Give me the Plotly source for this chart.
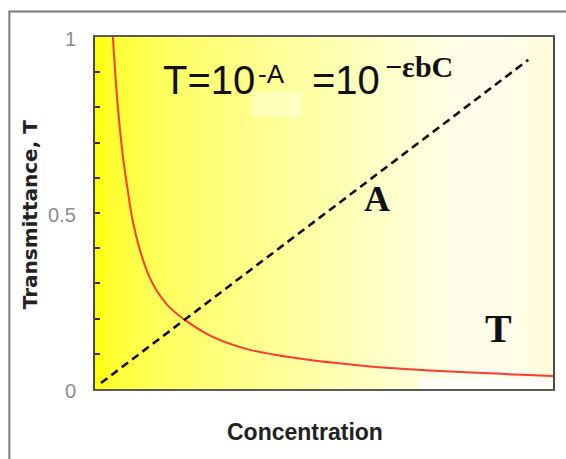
import plotly.graph_objects as go

# ---------------- data ----------------
X_RANGE = [0.0, 1.0]
Y_RANGE = [0.0, 1.0]

conc_T = [0.039, 0.050, 0.061, 0.072, 0.082, 0.098, 0.115, 0.130, 0.145, 0.163, 0.200,
          0.257, 0.330, 0.402, 0.474, 0.548, 0.620, 0.743, 0.887, 1.000]
trans_T = [1.000, 0.800, 0.660, 0.560, 0.480, 0.395, 0.330, 0.290, 0.260, 0.232, 0.193,
           0.148, 0.114, 0.095, 0.082, 0.071, 0.062, 0.052, 0.043, 0.037]

conc_A = [0.013, 0.946]
absorb_A = [0.017, 0.935]

ytick_vals = [0, 0.5, 1]
ytick_text = ["0", "0.5", "1"]

# ---------------- layout geometry ----------------
W, H = 566, 459
L, R, T, B = 95, 11, 37, 70
PW, PH = W - L - R, H - T - B


def px_x(px):
    return (px - L) / PW


def px_y(py):
    return (H - B - py) / PH


SANS = "Liberation Sans, Arial, sans-serif"
SERIF = "Liberation Serif, Times New Roman, serif"

fig = go.Figure()

# gradient background of the plotting area
fig.add_trace(go.Scatter(
    x=[X_RANGE[0], X_RANGE[1], X_RANGE[1], X_RANGE[0], X_RANGE[0]],
    y=[Y_RANGE[0], Y_RANGE[0], Y_RANGE[1], Y_RANGE[1], Y_RANGE[0]],
    mode="none", fill="toself",
    fillgradient=dict(type="horizontal", colorscale=[
        [0.0, "#ffff00"], [0.03, "#ffff2e"], [0.12, "#ffff55"], [0.2, "#ffff6c"],
        [0.4, "#ffff98"], [0.62, "#ffffc6"], [0.78, "#ffffe8"], [0.87, "#fffeee"],
        [1.0, "#fffbdc"]]),
    hoverinfo="skip", showlegend=False,
))

# T curve (red)
fig.add_trace(go.Scatter(
    x=conc_T, y=trans_T, mode="lines",
    line=dict(color="#ff3b2f", width=2, shape="spline", smoothing=1.0),
    showlegend=False,
))

# A line (dashed)
fig.add_trace(go.Scatter(
    x=conc_A, y=absorb_A, mode="lines",
    line=dict(color="#111111", width=2.6, dash="8px,5px"),
    showlegend=False,
))

annotations = [
    dict(text="T=10", x=px_x(161), y=px_y(80), xanchor="left", yanchor="middle",
         font=dict(family=SANS, size=40, color="#111111")),
    dict(text="-A", x=px_x(257), y=px_y(74), xanchor="left", yanchor="middle",
         font=dict(family=SANS, size=26, color="#111111")),
    dict(text="=10", x=px_x(311), y=px_y(80), xanchor="left", yanchor="middle",
         font=dict(family=SANS, size=40, color="#111111")),
    dict(text="<b>\u2212\u03b5bC</b>", x=px_x(384), y=px_y(66), xanchor="left", yanchor="middle",
         font=dict(family=SERIF, size=30, color="#111111")),
    dict(text="<b>A</b>", x=px_x(378), y=px_y(199), xanchor="center", yanchor="middle",
         font=dict(family=SERIF, size=36, color="#111111")),
    dict(text="<b>T</b>", x=px_x(500), y=px_y(328), xanchor="center", yanchor="middle",
         font=dict(family=SERIF, size=40, color="#111111")),
    dict(text="<b>Transmittance, T</b>", x=px_x(30), y=px_y(215), textangle=-90,
         xanchor="center", yanchor="middle",
         font=dict(family="DejaVu Sans, sans-serif", size=20, color="#222222")),
    dict(text="<b>Concentration</b>", x=px_x(306), y=px_y(432),
         xanchor="center", yanchor="middle",
         font=dict(family=SANS, size=23, color="#222222")),
]
for a in annotations:
    a.update(xref="paper", yref="paper", showarrow=False)

# y tick labels (right aligned, well away from the axis)
for v, t in zip(ytick_vals, ytick_text):
    annotations.append(dict(text=t, x=px_x(78), xref="paper", y=v, yref="y",
                            xanchor="right", yanchor="middle", showarrow=False, yshift=-2,
                            font=dict(family=SANS, size=20, color="#8c8c8c")))

shapes = [
    # outer frame of the picture
    dict(type="rect", xref="paper", yref="paper",
         x0=px_x(9), x1=px_x(580), y0=px_y(475), y1=px_y(11.5),
         line=dict(color="#7a7a7a", width=2), fillcolor="rgba(0,0,0,0)", layer="below"),
    # faint light patch behind the formula
    dict(type="rect", xref="paper", yref="paper",
         x0=px_x(252), x1=px_x(303), y0=px_y(117), y1=px_y(92),
         line=dict(width=0), fillcolor="rgba(255,255,255,0.35)", layer="above"),
    # whitish strip at the lower right
    dict(type="rect", xref="paper", yref="paper",
         x0=px_x(420), x1=px_x(555), y0=px_y(389), y1=px_y(379),
         line=dict(width=0), fillcolor="rgba(255,255,255,0.75)", layer="above"),
]

fig.update_layout(
    width=W, height=H,
    margin=dict(l=L, r=R, t=T, b=B, pad=0),
    paper_bgcolor="white", plot_bgcolor="white",
    annotations=annotations, shapes=shapes,
    showlegend=False,
    xaxis=dict(range=X_RANGE, showgrid=False, zeroline=False, showticklabels=False,
               ticks="", showline=True, linecolor="#5a5a5a", linewidth=2, mirror=True,
               fixedrange=True),
    yaxis=dict(range=Y_RANGE, showgrid=False, zeroline=False,
               tickvals=ytick_vals, showticklabels=False,
               ticks="inside", ticklen=5, tickwidth=2, tickcolor="#333333",
               minor=dict(dtick=0.1, ticks="inside", ticklen=5, tickwidth=2,
                          tickcolor="#333333", showgrid=False),
               showline=True, linecolor="#4a4a4a", linewidth=2, mirror=True,
               fixedrange=True),
)

fig.write_html("out.html", config={"displayModeBar": False},
               post_script="document.body.style.margin='0px';document.body.style.overflow='hidden';")
